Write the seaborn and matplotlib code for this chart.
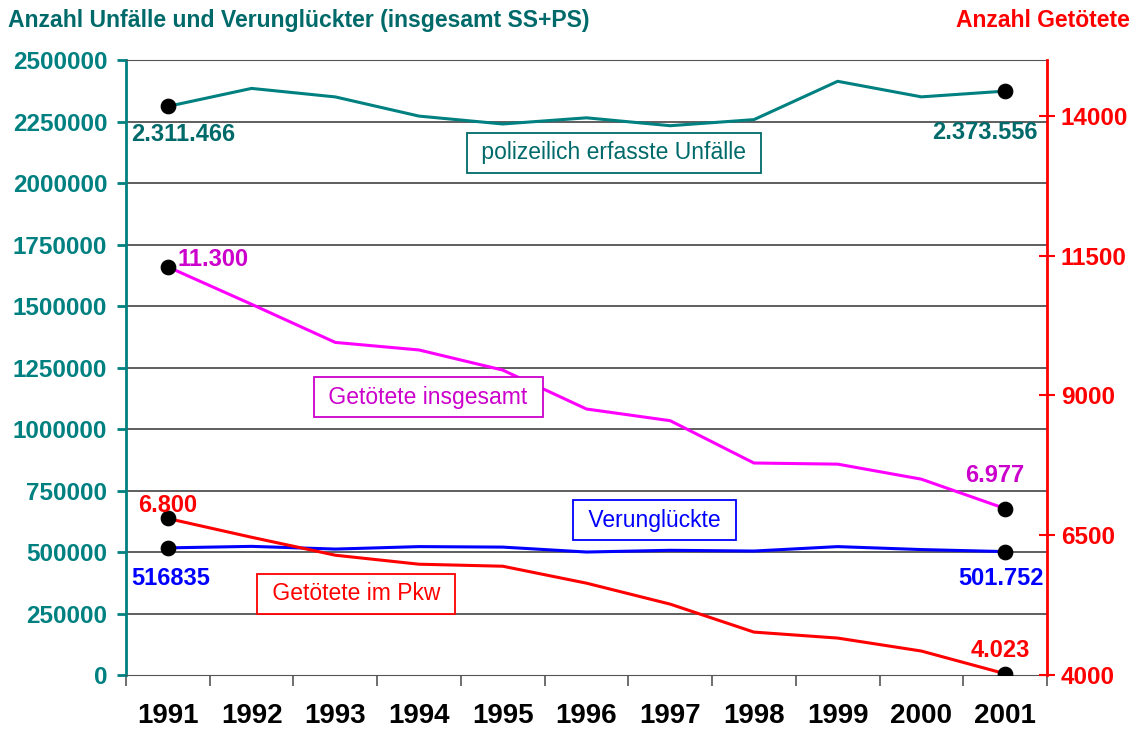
import numpy as np
import pandas as pd
import matplotlib
matplotlib.use("Agg")
import matplotlib.pyplot as plt
import seaborn as sns
from matplotlib.ticker import FixedLocator, NullFormatter

sns.set_style("white")
plt.rcParams['font.family'] = ['Liberation Sans', 'DejaVu Sans']

# ---------------- data ----------------
years = [1991, 1992, 1993, 1994, 1995, 1996, 1997, 1998, 1999, 2000, 2001]
unfaelle = [2311466, 2384579, 2350000, 2272000, 2240000, 2265000, 2232943, 2257649, 2413473, 2350227, 2373556]
verunglueckte = [516835, 523000, 512000, 522000, 520000, 500000, 507000, 504000, 522000, 510000, 501752]
getoetete = [11300, 10631, 9949, 9814, 9454, 8758, 8549, 7792, 7772, 7503, 6977]
getoetete_pkw = [6800, 6464, 6143, 5982, 5946, 5643, 5268, 4768, 4661, 4429, 4023]

end_labels_left = {"unfaelle": ["2.311.466", "2.373.556"],
                   "verunglueckte": ["516835", "501.752"]}
end_labels_right = {"getoetete": ["11.300", "6.977"],
                    "getoetete_pkw": ["6.800", "4.023"]}

left_ticks = np.arange(0, 2500001, 250000)
right_ticks = [4000, 6500, 9000, 11500, 14000]

df = pd.DataFrame({"Jahr": years, "Unfaelle": unfaelle, "Verunglueckte": verunglueckte,
                   "Getoetete": getoetete, "Pkw": getoetete_pkw})

TEAL = "#008080"
DTEAL = "#006a6a"
MAG = "#ff00ff"
DMAG = "#cc00cc"
BLUE = "#0000ff"
RED = "#ff0000"

fig, ax = plt.subplots(figsize=(11.38, 7.4), dpi=100)
fig.subplots_adjust(left=0.1107, right=0.92, top=0.9189, bottom=0.0878)
ax2 = ax.twinx()

# left axis series
sns.lineplot(data=df, x="Jahr", y="Unfaelle", color=TEAL, lw=2.2, ax=ax)
sns.lineplot(data=df, x="Jahr", y="Verunglueckte", color=BLUE, lw=2.2, ax=ax)
# right axis series
sns.lineplot(data=df, x="Jahr", y="Getoetete", color=MAG, lw=2.2, ax=ax2)
sns.lineplot(data=df, x="Jahr", y="Pkw", color=RED, lw=2.2, ax=ax2)

ends = df.iloc[[0, -1]]
for col, a in [("Unfaelle", ax), ("Verunglueckte", ax), ("Getoetete", ax2), ("Pkw", ax2)]:
    sns.scatterplot(data=ends, x="Jahr", y=col, color="black", s=110, zorder=5,
                    edgecolor="black", ax=a)

ax.set_ylim(0, 2500000)
ax2.set_ylim(4000, 15000)
ax.set_xlim(years[0] - 0.5, years[-1] + 0.5)
ax2.set_xlim(years[0] - 0.5, years[-1] + 0.5)

# grid
for v in left_ticks[1:]:
    ax.axhline(v, color="#333333", lw=1.1, zorder=0)

# left axis styling
ax.set_yticks(left_ticks)
ax.set_yticklabels([str(v) for v in left_ticks], color=TEAL, fontsize=17.5, fontweight="bold")
ax.tick_params(axis="y", which="major", direction="out", length=6.5, width=2, color=TEAL, pad=7, left=True)
ax.spines["left"].set_color(TEAL)
ax.spines["left"].set_linewidth(2)
ax.spines["top"].set_color("#555555")
ax.spines["bottom"].set_color("#555555")
ax.spines["right"].set_visible(False)

# x axis: ticks at category boundaries, year labels at centres
ax.xaxis.set_major_locator(FixedLocator(np.arange(years[0] - 0.5, years[-1] + 1, 1)))
ax.xaxis.set_major_formatter(NullFormatter())
ax.xaxis.set_minor_locator(FixedLocator(years))
ax.set_xticklabels([str(y) for y in years], minor=True)
ax.tick_params(axis="x", which="major", direction="out", length=8, width=1.2, color="#555555", bottom=True)
ax.tick_params(axis="x", which="minor", length=0, pad=20, labelcolor="black")
for lab in ax.get_xticklabels(minor=True):
    lab.set_fontsize(20)
    lab.set_fontweight("bold")
ax.set_xlabel("")
ax.set_ylabel("")

# right axis styling
ax2.set_yticks(right_ticks)
ax2.set_yticklabels([str(v) for v in right_ticks], color=RED, fontsize=17.5, fontweight="bold")
ax2.tick_params(axis="y", direction="inout", length=12, width=1.5, color=RED, pad=4, right=True)
for s in ["left", "top", "bottom"]:
    ax2.spines[s].set_visible(False)
ax2.spines["right"].set_color(RED)
ax2.spines["right"].set_linewidth(2)
ax2.set_ylabel("")
ax2.set_xlabel("")

# titles
fig.text(0.007, 0.972, "Anzahl Unfälle und Verunglückter (insgesamt SS+PS)", color=DTEAL,
         fontsize=16.6, fontweight="bold", ha="left", va="center")
fig.text(0.993, 0.972, "Anzahl Getötete", color=RED, fontsize=16.5, fontweight="bold",
         ha="right", va="center")

# end-point labels
def lab(a, x, y, text, dx, dy, color, ha="center"):
    a.annotate(text, (x, y), xytext=(dx, dy), textcoords="offset pixels", ha=ha, va="center",
               color=color, fontsize=17, fontweight="bold", zorder=6)

lab(ax, years[0], unfaelle[0], end_labels_left["unfaelle"][0], 15, -28, DTEAL)
lab(ax, years[-1], unfaelle[-1], end_labels_left["unfaelle"][1], -20, -41, DTEAL)
lab(ax, years[0], verunglueckte[0], end_labels_left["verunglueckte"][0], 3, -31, BLUE)
lab(ax, years[-1], verunglueckte[-1], end_labels_left["verunglueckte"][1], -4, -27, BLUE)
lab(ax2, years[0], getoetete[0], end_labels_right["getoetete"][0], 10, 7, DMAG, ha="left")
lab(ax2, years[-1], getoetete[-1], end_labels_right["getoetete"][1], -10, 33, DMAG)
lab(ax2, years[0], getoetete_pkw[0], end_labels_right["getoetete_pkw"][0], 0, 13, RED)
lab(ax2, years[-1], getoetete_pkw[-1], end_labels_right["getoetete_pkw"][1], -5, 23, RED)

# series boxes
def box(x, y, text, tcolor, ecolor):
    ax2.text(x, y, " " + text + " ", transform=ax2.transAxes, ha="center", va="center",
             color=tcolor, fontsize=16.5, zorder=7,
             bbox=dict(boxstyle="square,pad=0.38", facecolor="white", edgecolor=ecolor, lw=1.3))

box(0.530, 0.849, "polizeilich erfasste Unfälle", DTEAL, DTEAL)
box(0.328, 0.452, "Getötete insgesamt", DMAG, DMAG)
box(0.574, 0.252, "Verunglückte", BLUE, BLUE)
box(0.250, 0.132, "Getötete im Pkw", RED, RED)

plt.savefig("out.png", dpi=100)
